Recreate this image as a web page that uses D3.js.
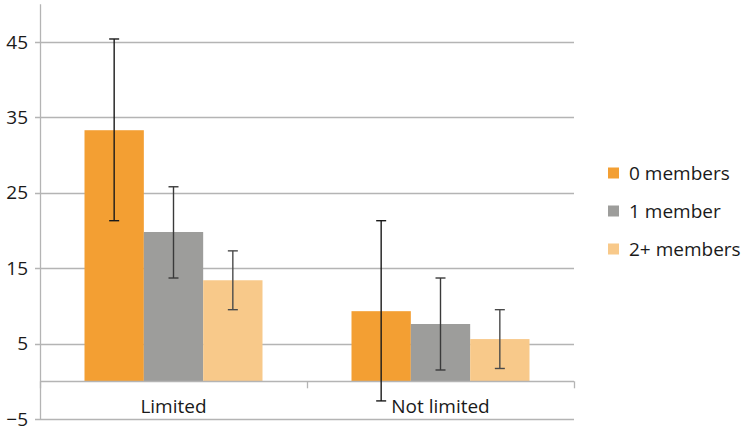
<!DOCTYPE html>
<html><head><meta charset="utf-8">
<script src="https://cdn.jsdelivr.net/npm/d3@7"></script>
<style>body{margin:0;background:#fff}svg{display:block}text{font-family:"Open Sans",sans-serif;fill:#1a1a1a}</style>
</head><body><svg id="c" width="744" height="431"></svg>
<script>
const categories = ["Limited", "Not limited"];
const series = ["0 members", "1 member", "2+ members"];
const values = [[33.3, 19.8, 13.4], [9.3, 7.6, 5.6]];
const errLow = [[21.3, 13.7, 9.5], [-2.6, 1.5, 1.7]];
const errHigh = [[45.4, 25.8, 17.3], [21.3, 13.7, 9.5]];
const yTicks = [45, 35, 25, 15, 5, -5];
const colors = ["#F39F33", "#9D9D9B", "#F8C98A"];
const errColors = ["#1a1a1a", "#3a3a3a", "#4a4a4a"];

const svg = d3.select("#c");
const left = 40, right = 574;
const y = d3.scaleLinear().domain([-5, 50]).range([419, 4.3]);
const x0 = d3.scaleBand().domain(categories).range([left, right]).paddingInner(0).paddingOuter(0);
const x1 = d3.scaleBand().domain(series).range([0, x0.bandwidth() * 2 / 3]).padding(0);
const groupOffset = x0.bandwidth() / 6;
const fs = "19px";

// gridlines
svg.append("g").selectAll("line").data(yTicks).join("line")
  .attr("x1", left - 5).attr("x2", right)
  .attr("y1", d => Math.round(y(d)) + 0.5).attr("y2", d => Math.round(y(d)) + 0.5)
  .attr("stroke", "#b4b4b4").attr("stroke-width", 1.3);
// y axis line
svg.append("line").attr("x1", left + 0.5).attr("x2", left + 0.5).attr("y1", y(50)).attr("y2", y(-5))
  .attr("stroke", "#b4b4b4").attr("stroke-width", 1.3);
// tick labels
svg.append("g").selectAll("text").data(yTicks).join("text")
  .attr("x", 28).attr("y", d => y(d)).attr("dy", "0.35em").attr("text-anchor", "end")
  .style("font-size", fs).text(d => d < 0 ? "\u2212" + Math.abs(d) : d);

// bars
const g = svg.append("g").selectAll("g").data(categories).join("g")
  .attr("transform", c => `translate(${x0(c) + groupOffset},0)`);
g.selectAll("rect").data((c, i) => values[i].map((v, j) => ({v, j}))).join("rect")
  .attr("x", d => x1(series[d.j])).attr("width", x1.bandwidth())
  .attr("y", d => y(d.v)).attr("height", d => y(0) - y(d.v))
  .attr("fill", d => colors[d.j]);

// zero axis line
svg.append("line").attr("x1", left).attr("x2", right).attr("y1", Math.round(y(0)) + 0.5).attr("y2", Math.round(y(0)) + 0.5)
  .attr("stroke", "#b4b4b4").attr("stroke-width", 1.3);
svg.append("g").selectAll("line").data([...categories.map(c => x0(c)), right]).join("line")
  .attr("x1", d => d + 0.5).attr("x2", d => d + 0.5)
  .attr("y1", y(0)).attr("y2", y(0) + 7).attr("stroke", "#b4b4b4").attr("stroke-width", 1.3);

// error bars
const eg = svg.append("g").selectAll("g").data(categories).join("g")
  .attr("transform", c => `translate(${x0(c) + groupOffset},0)`);
const errs = eg.selectAll("g").data((c, i) => values[i].map((v, j) => ({lo: errLow[i][j], hi: errHigh[i][j], j}))).join("g");
errs.append("line").attr("x1", d => x1(series[d.j]) + x1.bandwidth() / 2).attr("x2", d => x1(series[d.j]) + x1.bandwidth() / 2)
  .attr("y1", d => y(d.lo)).attr("y2", d => y(d.hi)).attr("stroke", d => errColors[d.j]).attr("stroke-width", 1.4);
["lo", "hi"].forEach(k => {
  errs.append("line").attr("x1", d => x1(series[d.j]) + x1.bandwidth() / 2 - 5).attr("x2", d => x1(series[d.j]) + x1.bandwidth() / 2 + 5)
    .attr("y1", d => y(d[k])).attr("y2", d => y(d[k])).attr("stroke", d => errColors[d.j]).attr("stroke-width", 1.4);
});

// category labels
svg.append("g").selectAll("text").data(categories).join("text")
  .attr("x", c => x0(c) + x0.bandwidth() / 2).attr("y", 406).attr("dy", "0.35em").attr("text-anchor", "middle")
  .style("font-size", fs).text(c => c);

// legend
const lg = svg.append("g").selectAll("g").data(series).join("g")
  .attr("transform", (s, i) => `translate(608,${173 + i * 38})`);
lg.append("rect").attr("x", 0).attr("y", -5.5).attr("width", 11).attr("height", 11).attr("fill", (s, i) => colors[i]);
lg.append("text").attr("x", 21).attr("y", 0).attr("dy", "0.35em").style("font-size", fs).text(s => s);
</script></body></html>
